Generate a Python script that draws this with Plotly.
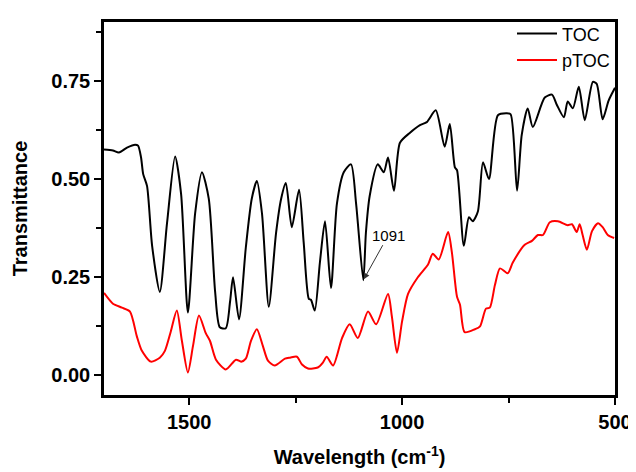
import plotly.graph_objects as go

# TOC spectrum (wavenumber, transmittance)
toc_x = [1700, 1679, 1665, 1646, 1627, 1620, 1613, 1608, 1599, 1587, 1569, 1552, 1533, 1519,
         1503, 1486, 1470, 1454, 1439, 1428, 1414, 1404, 1397, 1383, 1367, 1353, 1341, 1329,
         1313, 1296, 1284, 1273, 1259, 1242, 1231, 1219, 1214, 1205, 1193, 1181, 1167, 1153,
         1137, 1120, 1108, 1091, 1085, 1076, 1057, 1043, 1033, 1019, 1005, 982, 958, 942,
         921, 900, 888, 876, 871, 855, 843, 834, 822, 810, 796, 775, 754, 745, 730, 719,
         705, 693, 665, 648, 637, 620, 611, 599, 585, 571, 552, 543, 529, 515, 500]
toc_y = [0.575, 0.5725, 0.5675, 0.58, 0.5875, 0.585, 0.555, 0.5125, 0.4825, 0.33, 0.2125,
         0.3875, 0.5575, 0.4625, 0.16, 0.4125, 0.5175, 0.45, 0.2125, 0.1225, 0.12, 0.1875,
         0.25, 0.1425, 0.325, 0.45, 0.495, 0.4125, 0.175, 0.3625, 0.45, 0.49, 0.3775, 0.4725,
         0.3375, 0.195, 0.1925, 0.165, 0.2875, 0.3925, 0.2225, 0.4375, 0.5175, 0.5375, 0.4375,
         0.2425, 0.3625, 0.4575, 0.5375, 0.5175, 0.555, 0.47, 0.5925, 0.6175, 0.6375, 0.645,
         0.675, 0.5825, 0.64, 0.53, 0.5225, 0.33, 0.4025, 0.3925, 0.4175, 0.5425, 0.50,
         0.6625, 0.6675, 0.665, 0.47, 0.6125, 0.68, 0.6325, 0.7075, 0.715, 0.69, 0.6575,
         0.6975, 0.68, 0.735, 0.65, 0.7475, 0.7425, 0.6525, 0.70, 0.7325]

# pTOC spectrum
ptoc_x = [1700, 1679, 1658, 1639, 1623, 1611, 1590, 1569, 1557, 1543, 1529, 1517, 1503, 1491,
          1477, 1461, 1451, 1437, 1414, 1390, 1378, 1367, 1355, 1341, 1327, 1315, 1299, 1275,
          1263, 1247, 1235, 1221, 1198, 1186, 1177, 1162, 1141, 1123, 1104, 1080, 1061, 1033,
          1024, 1012, 1000, 986, 963, 939, 928, 914, 892, 883, 871, 864, 853, 829, 817, 803,
          794, 782, 770, 752, 740, 712, 695, 681, 669, 653, 634, 611, 601, 590, 583, 576,
          566, 554, 540, 529, 517, 502]
ptoc_y = [0.21, 0.1825, 0.1725, 0.1625, 0.10, 0.0625, 0.035, 0.045, 0.0625, 0.1125, 0.165,
          0.0875, 0.0075, 0.075, 0.1525, 0.1075, 0.0875, 0.04, 0.015, 0.04, 0.035, 0.0425,
          0.0875, 0.1175, 0.075, 0.0375, 0.025, 0.0425, 0.045, 0.0475, 0.0275, 0.0175, 0.02,
          0.0325, 0.0475, 0.025, 0.095, 0.13, 0.095, 0.1625, 0.13, 0.2075, 0.15, 0.0575,
          0.1375, 0.2075, 0.25, 0.2825, 0.31, 0.295, 0.365, 0.3125, 0.20, 0.18, 0.11, 0.1175,
          0.125, 0.17, 0.1725, 0.23, 0.2725, 0.26, 0.2875, 0.3325, 0.3425, 0.3575, 0.3575,
          0.39, 0.3925, 0.3825, 0.385, 0.365, 0.385, 0.3575, 0.32, 0.3675, 0.3875, 0.3775,
          0.3575, 0.35]

y_ticks = [0.0, 0.25, 0.5, 0.75]
x_ticks = [1500, 1000, 500]
annot_x, annot_y, annot_text = 1091, 0.2425, "1091"

FONT = "Liberation Sans, Arial, sans-serif"

fig = go.Figure()
fig.add_trace(go.Scatter(x=toc_x, y=toc_y, mode="lines", name="TOC",
                         line=dict(color="black", width=2, shape="spline", smoothing=0.7)))
fig.add_trace(go.Scatter(x=ptoc_x, y=ptoc_y, mode="lines", name="pTOC",
                         line=dict(color="#ff0000", width=2, shape="spline", smoothing=0.7)))

fig.add_annotation(x=annot_x, y=annot_y, text=annot_text, showarrow=True,
                   ax=25, ay=-45, arrowhead=2, arrowsize=1.2, arrowwidth=1,
                   arrowcolor="#333333", standoff=1,
                   font=dict(family=FONT, size=15, color="black"))

axis_common = dict(showline=True, linecolor="black", linewidth=2.5, mirror=True,
                   ticks="outside", ticklen=7, tickwidth=2, tickcolor="black",
                   showgrid=False, zeroline=False, automargin=False,
                   tickfont=dict(family=FONT, size=20, color="black", weight="bold"))

# page body adds an 8px margin, so the figure is 8px smaller and shifted
fig.update_layout(
    width=628, height=464,
    margin=dict(l=96, r=21, t=7, b=77),
    paper_bgcolor="white", plot_bgcolor="white",
    showlegend=True,
    legend=dict(x=1.0, y=1.018, xanchor="right", yanchor="top",
                bgcolor="rgba(0,0,0,0)", font=dict(family=FONT, size=18, color="black"),
                tracegroupgap=0, itemwidth=40),
    xaxis=dict(range=[1700, 500], tickvals=x_ticks,
               minor=dict(ticks="outside", ticklen=5, tickwidth=2, tickcolor="black", dtick=250, tick0=500),
               title=dict(text="Wavelength (cm<sup>-1</sup>)", standoff=19,
                          font=dict(family=FONT, size=20, color="black", weight="bold")),
               **axis_common),
    yaxis=dict(range=[-0.05, 0.90], tickvals=y_ticks, tickformat=".2f",
               minor=dict(ticks="outside", ticklen=5, tickwidth=2, tickcolor="black", dtick=0.125, tick0=0),
               title=dict(text="Transmittance", standoff=19,
                          font=dict(family=FONT, size=20, color="black", weight="bold")),
               **axis_common),
)

fig.write_html("out.html")
